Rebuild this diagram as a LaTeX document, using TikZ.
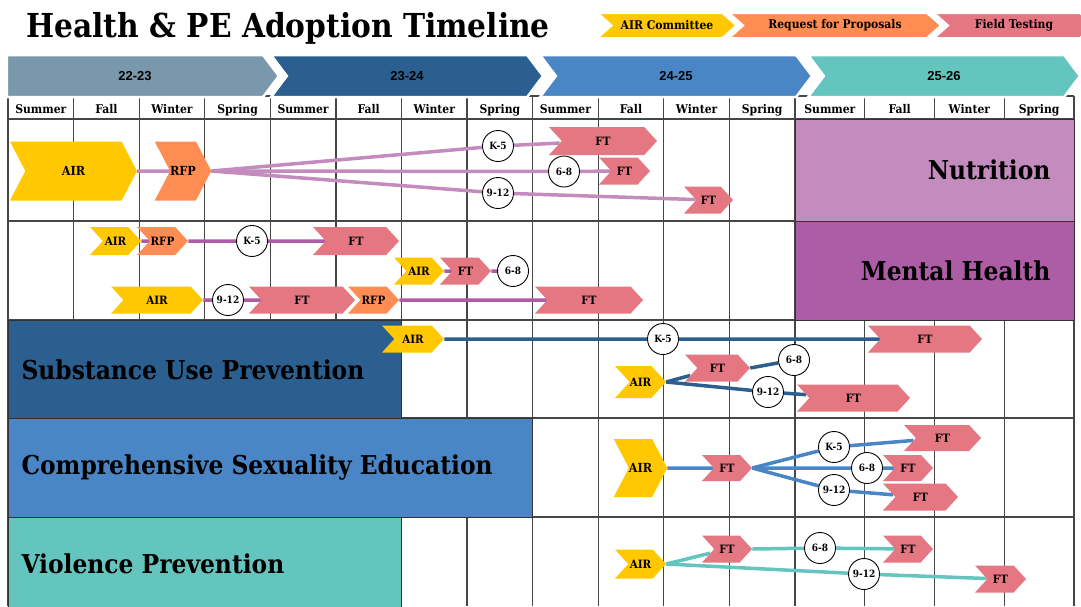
\documentclass[tikz,border=0pt]{standalone}
\usepackage{fontspec}
\setmainfont{DejaVu Serif Condensed}
\newfontfamily\yearfont{Liberation Sans}
\usetikzlibrary{shapes.symbols}
\definecolor{AirYellow}{RGB}{255,200,0}
\definecolor{RfpOrange}{RGB}{255,140,82}
\definecolor{FtPink}{RGB}{229,119,130}
\definecolor{YearGray}{RGB}{122,152,171}
\definecolor{NavyBlue}{RGB}{42,95,143}
\definecolor{MidBlue}{RGB}{74,134,197}
\definecolor{TealGreen}{RGB}{100,196,190}
\definecolor{LightPlum}{RGB}{195,139,190}
\definecolor{DeepPlum}{RGB}{173,93,165}
\definecolor{GridGray}{RGB}{70,70,70}

\pgfdeclarelayer{background}
\pgfdeclarelayer{links}
\pgfsetlayers{background,links,main}

\newcommand{\setfs}[1]{\fontsize{#1}{#1}\selectfont}
% stage chevron: style, name, left x, right x, mid y, height, label
\newcommand{\stage}[7]{%
  \node[#1, minimum width={#4-#3}, minimum height=#6] (#2) at ({(#3+#4)/2},#5) {#7};}

\tikzset{
  chev/.style={shape=signal, signal to=east, signal from=west, signal pointer angle=95,
    inner sep=0pt, font=\bfseries\setfs{11.5}},
  wide/.style={signal pointer angle=125, font=\bfseries\setfs{12.5}},
  air/.style={chev, fill=AirYellow},
  rfp/.style={chev, fill=RfpOrange},
  ft/.style={chev, fill=FtPink},
  grade/.style={circle, draw=black, fill=white, line width=0.9pt, minimum size=31pt,
    inner sep=0pt, font=\bfseries\setfs{10}},
  link/.style={line width=3.5pt},
  yearbar/.style={shape=signal, signal to=east, signal pointer angle=106, draw=white,
    line width=2.5pt, minimum width=272, minimum height=42, font=\yearfont\bfseries\setfs{13}},
  key/.style={shape=signal, signal to=east, signal from=west, signal pointer angle=83,
    draw=white, line width=2pt, minimum height=25, font=\bfseries\setfs{12}},
  season/.style={anchor=base, font=\bfseries\setfs{12}},
  subject/.style={font=\bfseries\setfs{26}},
}

\begin{document}
\begin{tikzpicture}[x=1pt, y=-1pt]
  \useasboundingbox (0,0) rectangle (1081,606);

  \node[anchor=base west, font=\bfseries\setfs{33}] (title) at (23,37) {Health \& PE Adoption Timeline};

  % legend
  \node[key, fill=AirYellow, minimum width=139] (kAir) at (667,25.5) {AIR Committee};
  \node[key, fill=RfpOrange, minimum width=212] (kRfp) at (835,25.5) {Request for Proposals};
  \node[key, fill=FtPink, minimum width=160] (kFt) at (1014,25.5) {Field Testing};

  % school years
  \node[yearbar, fill=YearGray, signal from=nowhere] (y1) at (135,76) {22-23};
  \node[yearbar, fill=NavyBlue, signal from=west] (y2) at (407,76) {23-24};
  \node[yearbar, fill=MidBlue, signal from=west] (y3) at (676,76) {24-25};
  \node[yearbar, fill=TealGreen, signal from=west] (y4) at (944,76) {25-26};

  % seasons
  \foreach \s [count=\i from 0] in {Summer,Fall,Winter,Spring,Summer,Fall,Winter,Spring,
      Summer,Fall,Winter,Spring,Summer,Fall,Winter,Spring} {
    \pgfmathsetmacro\xc{\i<12 ? 8+65.583*(\i+0.5) : 795+69.75*(\i-11.5)}
    \node[season] (s\i) at (\xc,113) {\s};
  }

  \begin{pgfonlayer}{background}
    \fill[white] (0,0) rectangle (1081,606);
    % grid
    \foreach \i in {0,...,16} {
      \pgfmathsetmacro\xg{\i<13 ? 8+65.583*\i : 795+69.75*(\i-12)}
      \draw[GridGray, line width=1.2pt] (\xg,96) -- (\xg,606);
    }
    \foreach \y in {96,119,221,320,418,517}
      \draw[GridGray, line width=1.3pt] (8,\y) -- (1074,\y);
    % subject boxes
    \draw[fill=LightPlum, draw=black!80] (795,119) rectangle (1074,221);
    \draw[fill=DeepPlum, draw=black!80] (795,221) rectangle (1074,320);
    \draw[fill=NavyBlue, draw=black!80] (8,320) rectangle (401,418);
    \draw[fill=MidBlue, draw=black!80] (8,418) rectangle (532,517);
    \draw[fill=TealGreen, draw=black!80] (8,517) rectangle (401,610);
  \end{pgfonlayer}

  \node[subject, anchor=east] (nutr) at (1054,170) {Nutrition};
  \node[subject, anchor=east] (ment) at (1054,271) {Mental Health};
  \node[subject, anchor=west] (subs) at (18,370) {Substance Use Prevention};
  \node[subject, anchor=west] (sexed) at (18,468) {Comprehensive Sexuality Education};
  \node[subject, anchor=west] (viol) at (18,564) {Violence Prevention};

  % Nutrition
  \stage{air,wide}{nAir}{10}{137}{171}{59}{AIR}
  \stage{rfp,wide}{nRfp}{158}{208}{171}{59}{RFP}
  \stage{ft}{nFtA}{549}{657}{141}{28}{FT}
  \stage{ft}{nFtB}{599}{650}{171}{27}{FT}
  \stage{ft}{nFtC}{684}{733}{200}{27}{FT}
  \node[grade] (nK) at (498,146) {K-5};
  \node[grade] (n68) at (564,171.5) {6-8};
  \node[grade] (n912) at (498,193) {9-12};

  % Mental Health
  \stage{air}{mAirA}{90}{141}{241}{28}{AIR}
  \stage{rfp}{mRfpA}{137}{188}{241}{28}{RFP}
  \stage{ft}{mFtA}{313}{399}{241}{28}{FT}
  \stage{air}{mAirB}{394}{444}{271}{27}{AIR}
  \stage{ft}{mFtB}{440}{491}{271}{27}{FT}
  \stage{air}{mAirC}{111}{203}{300}{27}{AIR}
  \stage{ft}{mFtC}{249}{355}{300}{27}{FT}
  \stage{rfp}{mRfpC}{348}{399}{300}{27}{RFP}
  \stage{ft}{mFtD}{535}{643}{300}{27}{FT}
  \node[grade] (mK) at (252,241) {K-5};
  \node[grade] (m68) at (513,271) {6-8};
  \node[grade] (m912) at (228,300) {9-12};

  % Substance Use Prevention
  \stage{air}{sAirA}{382}{444}{339}{27}{AIR}
  \stage{ft}{sFtA}{868}{982}{339}{27}{FT}
  \stage{air}{sAirB}{615}{666}{382}{32}{AIR}
  \stage{ft}{sFtB}{685}{750}{368}{27}{FT}
  \stage{ft}{sFtC}{797}{910}{398}{27}{FT}
  \node[grade] (sK) at (663,339) {K-5};
  \node[grade] (s68) at (794,360) {6-8};
  \node[grade] (s912) at (768,392) {9-12};

  % Comprehensive Sexuality Education
  \stage{air,wide}{cAir}{615}{666}{468}{58}{AIR}
  \stage{ft}{cFtA}{702}{752}{468}{26}{FT}
  \stage{ft}{cFtB}{904}{981}{438}{26}{FT}
  \stage{ft}{cFtC}{883}{933}{468}{26}{FT}
  \stage{ft}{cFtD}{883}{958}{497}{27}{FT}
  \node[grade] (cK) at (834,447) {K-5};
  \node[grade] (c68) at (867,468) {6-8};
  \node[grade] (c912) at (834,490) {9-12};

  % Violence Prevention
  \stage{air}{vAir}{615}{666}{564}{29}{AIR}
  \stage{ft}{vFtA}{702}{752}{549}{27}{FT}
  \stage{ft}{vFtB}{883}{933}{549}{27}{FT}
  \stage{ft}{vFtC}{975}{1026}{579}{27}{FT}
  \node[grade] (v68) at (820,548) {6-8};
  \node[grade] (v912) at (864,574) {9-12};

  \begin{pgfonlayer}{links}
    \draw[link, LightPlum] (nAir) -- (nRfp);
    \draw[link, LightPlum] (nRfp.east) -- (nK) -- (nFtA);
    \draw[link, LightPlum] (nRfp.east) -- (n68) -- (nFtB);
    \draw[link, LightPlum] (nRfp.east) -- (n912) -- (nFtC);

    \draw[link, DeepPlum] (mAirA) -- (mRfpA);
    \draw[link, DeepPlum] (mRfpA.east) -- (mK) -- (mFtA);
    \draw[link, DeepPlum] (mAirB) -- (mFtB) -- (m68);
    \draw[link, DeepPlum] (mAirC.east) -- (m912) -- (mFtC);
    \draw[link, DeepPlum] (mRfpC.east) -- (mFtD);

    \draw[link, NavyBlue] (sAirA.east) -- (sK) -- (sFtA);
    \draw[link, NavyBlue] (sAirB.east) -- (sFtB);
    \draw[link, NavyBlue] (sFtB.east) -- (s68);
    \draw[link, NavyBlue] (sAirB.east) -- (s912) -- (sFtC);

    \draw[link, MidBlue] (cAir) -- (cFtA);
    \draw[link, MidBlue] (cFtA.east) -- (cK) -- (cFtB);
    \draw[link, MidBlue] (cFtA.east) -- (c68) -- (cFtC);
    \draw[link, MidBlue] (cFtA.east) -- (c912) -- (cFtD);

    \draw[link, TealGreen] (vAir.east) -- (vFtA);
    \draw[link, TealGreen] (vFtA.east) -- (v68) -- (vFtB);
    \draw[link, TealGreen] (vAir.east) -- (v912) -- (vFtC);
  \end{pgfonlayer}
\end{tikzpicture}
\end{document}
